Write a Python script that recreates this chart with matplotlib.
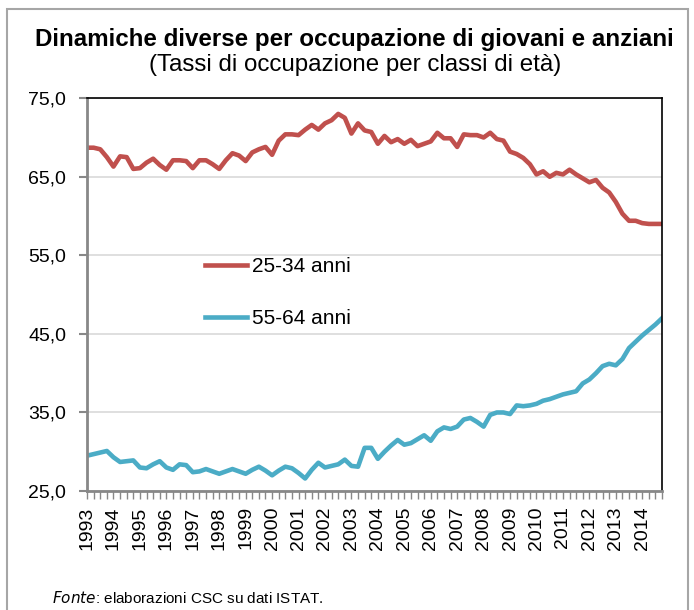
import numpy as np
import matplotlib.pyplot as plt
from matplotlib.patches import Rectangle

plt.rcParams['font.family'] = ['Liberation Sans', 'DejaVu Sans']

# quarterly data, 1993Q1 - 2014Q4
years = list(range(1993, 2015))
young = [68.7, 68.7, 68.5, 67.5, 66.3, 67.6, 67.5, 66.0, 66.1, 66.8,
         67.3, 66.5, 65.9, 67.1, 67.1, 67.0, 66.1, 67.1, 67.1, 66.6,
         66.0, 67.1, 68.0, 67.7, 67.0, 68.1, 68.5, 68.8, 67.8, 69.6,
         70.4, 70.4, 70.3, 71.0, 71.6, 71.0, 71.8, 72.2, 73.0, 72.5,
         70.5, 71.8, 70.9, 70.7, 69.2, 70.2, 69.4, 69.8, 69.2, 69.7,
         68.9, 69.2, 69.5, 70.6, 69.9, 69.9, 68.8, 70.4, 70.3, 70.3,
         70.0, 70.6, 69.8, 69.6, 68.2, 67.9, 67.4, 66.6, 65.3, 65.7,
         65.0, 65.5, 65.3, 65.9, 65.3, 64.8, 64.3, 64.6, 63.6, 63.0,
         61.8, 60.3, 59.4, 59.4, 59.1, 59.0, 59.0, 59.0]
old = [29.5, 29.7, 29.9, 30.1, 29.3, 28.7, 28.8, 28.9, 28.0, 27.9,
       28.4, 28.8, 28.0, 27.7, 28.4, 28.3, 27.4, 27.5, 27.8, 27.5,
       27.2, 27.5, 27.8, 27.5, 27.2, 27.7, 28.1, 27.6, 27.0, 27.6,
       28.1, 27.9, 27.3, 26.6, 27.7, 28.6, 28.0, 28.2, 28.4, 29.0,
       28.2, 28.1, 30.5, 30.5, 29.1, 30.0, 30.8, 31.5, 30.9, 31.1,
       31.6, 32.1, 31.4, 32.6, 33.1, 32.9, 33.2, 34.1, 34.3, 33.8,
       33.2, 34.7, 35.0, 35.0, 34.8, 35.9, 35.8, 35.9, 36.1, 36.5,
       36.7, 37.0, 37.3, 37.5, 37.7, 38.7, 39.2, 40.0, 40.9, 41.2,
       41.0, 41.8, 43.2, 44.0, 44.8, 45.5, 46.2, 47.0]
labels = ['25-34 anni', '55-64 anni']

x = np.arange(len(young))

fig = plt.figure(figsize=(6.94, 6.10), dpi=100)
ax = fig.add_axes([0.1254, 0.195, 0.954 - 0.1254, 0.839 - 0.195])

ax.plot(x, young, color='#C0504D', lw=3.3, solid_joinstyle='round', label=labels[0])
ax.plot(x, old, color='#4BACC6', lw=3.3, solid_joinstyle='round', label=labels[1])

ax.set_xlim(0, len(young) - 1)
ax.set_ylim(25, 75)
ax.set_yticks(np.arange(25, 76, 10))
ax.set_yticklabels([f'{v:.1f}'.replace('.', ',') for v in np.arange(25, 76, 10)], fontsize=14)
ax.yaxis.grid(True, color='#d9d9d9', lw=1.2)
ax.set_axisbelow(True)

ax.set_xticks(x)
ax.set_xticklabels([str(years[i // 4]) if i % 4 == 0 else '' for i in x],
                   rotation=90, fontsize=14)
ax.tick_params(axis='x', length=6, width=1, color='#888888', pad=5)
ax.tick_params(axis='y', length=6, width=1.5, color='#888888', pad=9)

for s in ['left', 'bottom']:
    ax.spines[s].set_color('#888888')
    ax.spines[s].set_linewidth(2)
for s in ['top', 'right']:
    ax.spines[s].set_color('black')
    ax.spines[s].set_linewidth(1.2)

ax.legend(loc='upper left', bbox_to_anchor=(205 / 694, 1 - 257 / 610),
          bbox_transform=fig.transFigure, frameon=False, fontsize=15,
          borderpad=0, borderaxespad=0,
          handlelength=2.0, handletextpad=0.25, labelspacing=1.6)

fig.text(0.51, 0.935, 'Dinamiche diverse per occupazione di giovani e anziani',
         ha='center', va='center', fontsize=17.4, fontweight='bold')
fig.text(0.512, 0.893, '(Tassi di occupazione per classi di età)',
         ha='center', va='center', fontsize=17.4)
fig.text(52 / 694, 0.011, r'$\it{Fonte}$: elaborazioni CSC su dati ISTAT.',
         ha='left', va='baseline', fontsize=11)

fig.patches.append(Rectangle((7 / 694, -0.05), 681 / 694, 1 - 9 / 610 + 0.05,
                             transform=fig.transFigure, fill=False,
                             edgecolor='#a6a6a6', lw=1.5))

fig.savefig('out.png', dpi=100)
